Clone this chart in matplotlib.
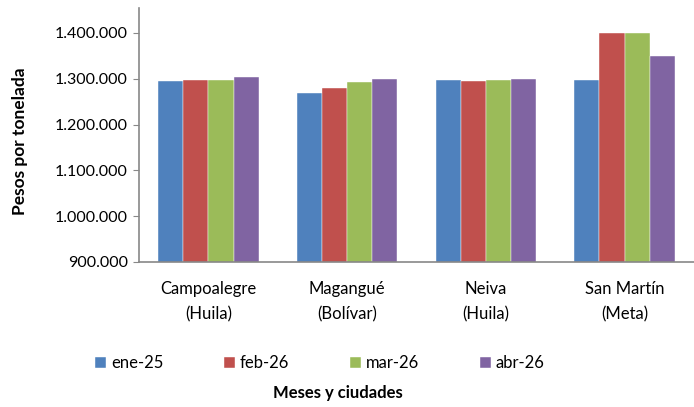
import numpy as np
import matplotlib
matplotlib.use("Agg")
import matplotlib.pyplot as plt
from matplotlib.ticker import FuncFormatter

ciudades = ["Campoalegre\n(Huila)", "Magangué\n(Bolívar)", "Neiva\n(Huila)", "San Martín\n(Meta)"]
meses = ["ene-25", "feb-26", "mar-26", "abr-26"]
ene25 = [1296000, 1268000, 1297000, 1298000]
feb26 = [1298000, 1279000, 1295000, 1400000]
mar26 = [1298000, 1292000, 1297000, 1400000]
abr26 = [1303000, 1300000, 1300000, 1350000]
colores = ["#4F81BD", "#C0504D", "#9BBB59", "#8064A2"]

plt.rcParams['font.family'] = ['Lato', 'DejaVu Sans']

fig = plt.figure(figsize=(6.94, 4.07), dpi=100)
ax = fig.add_axes([139/694, 1 - 262/407, 1 - 139/694, (262 - 7.8)/407])

x = np.arange(len(ciudades))
w = 0.726 / 4
series = [ene25, feb26, mar26, abr26]
for i, (vals, c, lab) in enumerate(zip(series, colores, meses)):
    ax.bar(x + (i - 1.5) * w, vals, w, color=c, label=lab,
           edgecolor="white", linewidth=0.3)

ax.set_xlim(-0.5, 3.5)
ax.set_ylim(900000, 1455000)
ax.set_yticks(range(900000, 1400001, 100000))
ax.yaxis.set_major_formatter(FuncFormatter(lambda v, p: f"{int(v):,}".replace(",", ".")))
ax.set_xticks(x)
ax.set_xticklabels(ciudades, fontsize=12, linespacing=1.7)
ax.tick_params(axis="x", length=0, pad=14)
ax.tick_params(axis="y", labelsize=11.5, length=4, color="#888888", pad=4)

for s in ["top", "right"]:
    ax.spines[s].set_visible(False)
for s in ["left", "bottom"]:
    ax.spines[s].set_color("#888888")
    ax.spines[s].set_linewidth(1.2)

fig.text(20/694, 1 - 141/407, "Pesos por tonelada", rotation=90, fontsize=12.5,
         fontweight="bold", ha="center", va="center")
fig.text(338/694, 1 - 393/407, "Meses y ciudades", fontsize=12,
         fontweight="bold", ha="center", va="center")

fig.legend(loc="center", bbox_to_anchor=(320/694, 1 - 363/407), ncol=4,
           frameon=False, fontsize=12, handlelength=0.65, handleheight=0.65,
           handletextpad=0.3, columnspacing=3.65)

fig.savefig("out.png", dpi=100)
